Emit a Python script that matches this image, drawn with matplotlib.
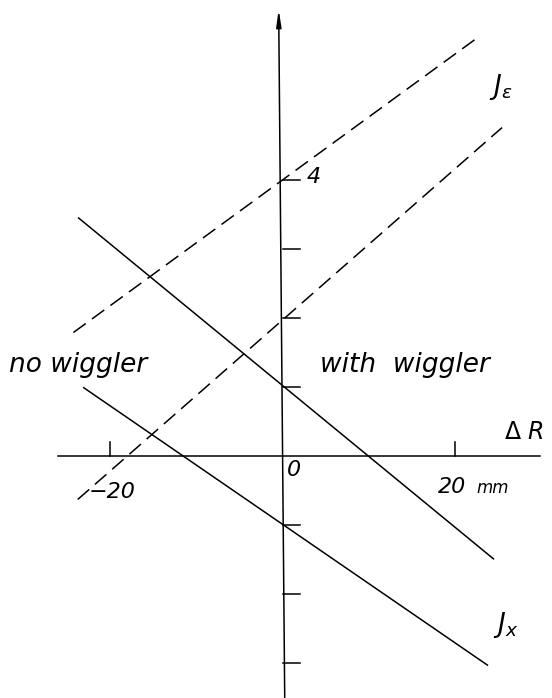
import numpy as np
import matplotlib
matplotlib.use('Agg')
import matplotlib.pyplot as plt

# damping partition numbers vs. radial displacement dR (mm)
# solid: J_x, dashed: J_eps ; end points
dr_jx_nowig = [-23.1, 23.7]
jx_nowig = [0.99, -3.03]
dr_jx_wig = [-23.7, 24.4]
jx_wig = [3.45, -1.49]
dr_je_nowig = [-24.3, 22.3]
je_nowig = [1.79, 6.04]
dr_je_wig = [-23.8, 25.4]
je_wig = [-0.63, 4.76]

yticks = [-3, -2, -1, 1, 2, 3, 4]
xticks = [-20, 20]

plt.rcParams['font.family'] = 'DejaVu Sans'

fig = plt.figure(figsize=(5.52, 6.98), dpi=100)
ax = fig.add_axes([0, 0, 1, 1])
ax.set_xlim(-32.81, 31.19)
ax.set_ylim(-3.507, 6.609)
ax.axis('off')

lw = 1.1
# axes drawn by hand
ax.plot([-26.1, 29.8], [0, 0], c='k', lw=lw)
ax.annotate('', xy=(-0.5, 6.47), xytext=(0.2, -3.5),
            arrowprops=dict(arrowstyle='-|>,head_length=1.0,head_width=0.15',
                            color='k', lw=lw, shrinkA=0, shrinkB=0))
for t in yticks:
    ax.plot([0, 2.0], [t, t], c='k', lw=lw)
for t in xticks:
    ax.plot([t, t], [0, 0.2], c='k', lw=lw)

# the four lines
ax.plot(dr_jx_nowig, jx_nowig, c='k', lw=lw)
ax.plot(dr_jx_wig, jx_wig, c='k', lw=lw)
ax.plot(dr_je_nowig, je_nowig, c='k', lw=lw, ls=(0, (10, 5)))
ax.plot(dr_je_wig, je_wig, c='k', lw=lw, ls=(0, (10, 5)))

fs = 16
ax.text(3.5, 4.05, '4', fontsize=fs, ha='center', va='center', style='italic')
ax.text(1.3, -0.2, '0', fontsize=fs, ha='center', va='center', style='italic')
ax.text(-19.8, -0.52, '\u221220', fontsize=fs, ha='center', va='center', style='italic')
ax.text(19.6, -0.45, '20', fontsize=fs, ha='center', va='center', style='italic')
ax.text(22.4, -0.47, 'mm', fontsize=12, ha='left', va='center', style='italic')
ax.text(28.0, 0.35, r'$\Delta\ R$', fontsize=17, ha='center', va='center')
ax.text(25.2, 5.35, r'$J_\varepsilon$', fontsize=19, ha='center', va='center')
ax.text(25.8, -2.45, r'$J_x$', fontsize=19, ha='center', va='center')
ax.text(-31.8, 1.32, 'no wiggler', fontsize=19, ha='left', va='center', style='italic')
ax.text(4.3, 1.32, 'with  wiggler', fontsize=19, ha='left', va='center', style='italic')

fig.savefig('out.png', dpi=100)
